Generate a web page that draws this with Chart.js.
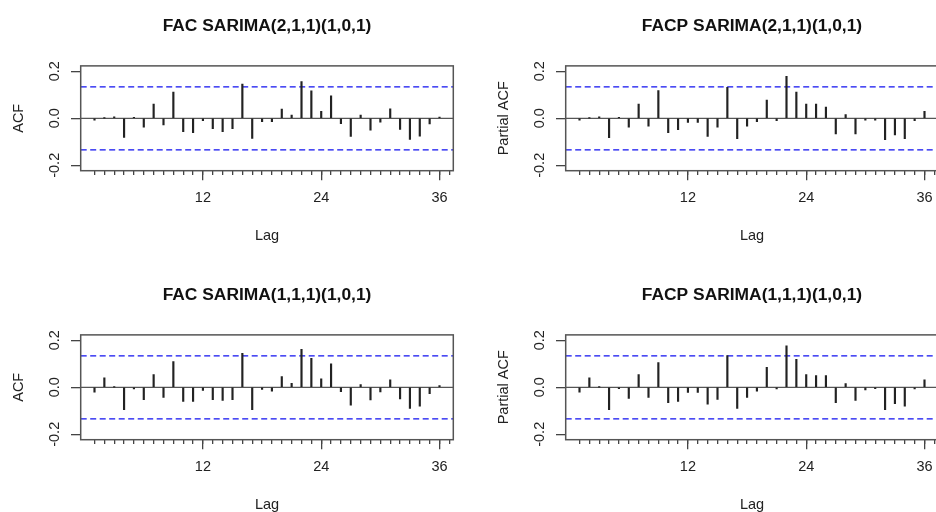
<!DOCTYPE html>
<html>
<head>
<meta charset="utf-8">
<script src="https://cdn.jsdelivr.net/npm/chart.js@4.4.1/dist/chart.umd.min.js"></script>
<style>
    html, body { margin: 0; padding: 0; width: 936px; height: 512px; overflow: hidden; background: #fff; }
    .panel { position: absolute; width: 468px; height: 268px; }
</style>
</head>
<body>
<div class="panel" style="left:0px;top:0px"><canvas id="c1" width="468" height="268"></canvas></div>
<div class="panel" style="left:485px;top:0px"><canvas id="c2" width="468" height="268"></canvas></div>
<div class="panel" style="left:0px;top:269px"><canvas id="c3" width="468" height="268"></canvas></div>
<div class="panel" style="left:485px;top:269px"><canvas id="c4" width="468" height="268"></canvas></div>
<script>
let lags = [1, 2, 3, 4, 5, 6, 7, 8, 9, 10, 11, 12, 13, 14, 15, 16, 17, 18,
    19, 20, 21, 22, 23, 24, 25, 26, 27, 28, 29, 30, 31, 32, 33, 34, 35, 36];

// SARIMA(2,1,1)(1,0,1) residuals
let acf211 = [-0.008, 0.001, 0.006, -0.081, 0.004, -0.038, 0.060, -0.028, 0.112, -0.057, -0.061, -0.010,
    -0.044, -0.057, -0.044, 0.146, -0.086, -0.014, -0.014, 0.039, 0.014, 0.156, 0.117, 0.030,
    0.096, -0.023, -0.077, 0.014, -0.051, -0.017, 0.040, -0.047, -0.090, -0.076, -0.024, 0.005];
let pacf211 = [-0.008, 0.001, 0.006, -0.082, 0.004, -0.038, 0.060, -0.034, 0.118, -0.061, -0.048, -0.018,
    -0.018, -0.077, -0.038, 0.132, -0.087, -0.033, -0.014, 0.078, -0.010, 0.179, 0.111, 0.060,
    0.060, 0.048, -0.067, 0.016, -0.067, -0.008, -0.008, -0.091, -0.071, -0.087, -0.010, 0.030];

// SARIMA(1,1,1)(1,0,1) residuals
let acf111 = [-0.021, 0.040, 0.001, -0.095, -0.007, -0.053, 0.054, -0.043, 0.109, -0.060, -0.060, -0.013,
    -0.053, -0.056, -0.053, 0.145, -0.095, -0.009, -0.017, 0.046, 0.017, 0.162, 0.123, 0.036,
    0.100, -0.019, -0.076, 0.011, -0.054, -0.020, 0.032, -0.050, -0.090, -0.080, -0.027, 0.007];
let pacf111 = [-0.021, 0.040, 0.001, -0.095, -0.006, -0.047, 0.054, -0.043, 0.105, -0.065, -0.060, -0.022,
    -0.022, -0.072, -0.052, 0.135, -0.090, -0.043, -0.017, 0.085, -0.007, 0.176, 0.119, 0.054,
    0.050, 0.050, -0.065, 0.016, -0.056, -0.011, -0.006, -0.095, -0.070, -0.080, -0.007, 0.032];

let ciLimit = 0.134;
let yTicks = [-0.2, -0.1, 0, 0.1, 0.2];
let majorLags = [12, 24, 36];
let minorLags = [1, 2, 3, 4, 5, 6, 7, 8, 9, 10, 11, 12, 13, 14, 15, 16, 17, 18, 19,
    20, 21, 22, 23, 24, 25, 26, 27, 28, 29, 30, 31, 32, 33, 34, 35, 36, 37];
let xMin = -0.4, xMax = 37.4;
let yMin = -0.223, yMax = 0.223;

const fontFamily = "'Liberation Sans', Arial, sans-serif";
const ink = "#222";

// frame around the plot region, like R's box()
const boxPlugin = {
    id: "box",
    afterDraw(chart) {
        let a = chart.chartArea;
        let ctx = chart.ctx;
        ctx.save();
        ctx.strokeStyle = "#555";
        ctx.lineWidth = 1.5;
        ctx.strokeRect(a.left, a.top, a.right - a.left, a.bottom - a.top);
        ctx.restore();
    }
};

function hline(y, color, dash) {
    return {
        type: "line",
        data: [{ x: xMin, y: y }, { x: xMax, y: y }],
        borderColor: color,
        borderWidth: 1.2,
        borderDash: dash,
        pointRadius: 0,
        order: 2
    };
}

function makePanel(id, title, yTitle, values) {
    let ctx = document.getElementById(id).getContext("2d");
    return new Chart(ctx, {
        type: "bar",
        data: {
            datasets: [
                {
                    type: "bar",
                    data: lags.map((l, i) => ({ x: l, y: values[i] })),
                    backgroundColor: ink,
                    borderWidth: 0,
                    barThickness: 1.5,
                    order: 1
                },
                hline(0, "#555", []),
                hline(ciLimit, "#1010f0", [6, 3.5]),
                hline(-ciLimit, "#1010f0", [6, 3.5])
            ]
        },
        options: {
            responsive: false,
            animation: false,
            events: [],
            layout: { padding: { left: 0, right: 14.7, top: 0, bottom: 0 } },
            plugins: {
                legend: { display: false },
                tooltip: { enabled: false },
                title: {
                    display: true,
                    text: title,
                    fullSize: false,
                    color: "#111",
                    font: { family: fontFamily, size: 17.4, weight: "bold" },
                    padding: { top: 15.5, bottom: 29.5 }
                }
            },
            scales: {
                x: {
                    type: "linear",
                    min: xMin,
                    max: xMax,
                    offset: false,
                    afterBuildTicks: s => { s.ticks = majorLags.map(v => ({ value: v })); },
                    afterFit: s => { s.height = 97.3; },
                    grid: { offset: false, drawOnChartArea: false, tickLength: 9.5, color: "#444", lineWidth: 1.3 },
                    border: { display: false },
                    ticks: {
                        color: ink,
                        padding: 9.5,
                        maxRotation: 0,
                        font: { family: fontFamily, size: 14.5 }
                    },
                    title: {
                        display: true,
                        text: "Lag",
                        color: ink,
                        font: { family: fontFamily, size: 14.5 },
                        padding: { top: 0, bottom: 23 }
                    }
                },
                xMinor: {
                    type: "linear",
                    min: xMin,
                    max: xMax,
                    offset: false,
                    position: { y: yMin },
                    afterBuildTicks: s => { s.ticks = minorLags.map(v => ({ value: v })); },
                    grid: { offset: false, drawOnChartArea: false, tickLength: 4, color: "#444", lineWidth: 1.3 },
                    border: { display: false },
                    ticks: { display: false }
                },
                y: {
                    type: "linear",
                    min: yMin,
                    max: yMax,
                    afterBuildTicks: s => { s.ticks = yTicks.map(v => ({ value: v })); },
                    afterFit: s => { s.width = 80.7; },
                    grid: { drawOnChartArea: false, tickLength: 9.7, color: "#444", lineWidth: 1.3 },
                    border: { display: false },
                    ticks: {
                        color: ink,
                        padding: 3.5,
                        minRotation: 90,
                        maxRotation: 90,
                        crossAlign: "center",
                        font: { family: fontFamily, size: 14.5 },
                        callback: function (v) {
                            let k = Math.round(v * 10);
                            if (k % 2 !== 0) return "";
                            return (k / 10).toFixed(1);
                        }
                    },
                    title: {
                        display: true,
                        text: yTitle,
                        color: ink,
                        font: { family: fontFamily, size: 14.5 },
                        padding: { top: 10.3, bottom: 0 }
                    }
                }
            }
        },
        plugins: [boxPlugin]
    });
}

makePanel("c1", "FAC SARIMA(2,1,1)(1,0,1)", "ACF", acf211);
makePanel("c2", "FACP SARIMA(2,1,1)(1,0,1)", "Partial ACF", pacf211);
makePanel("c3", "FAC SARIMA(1,1,1)(1,0,1)", "ACF", acf111);
makePanel("c4", "FACP SARIMA(1,1,1)(1,0,1)", "Partial ACF", pacf111);
</script>
</body>
</html>
